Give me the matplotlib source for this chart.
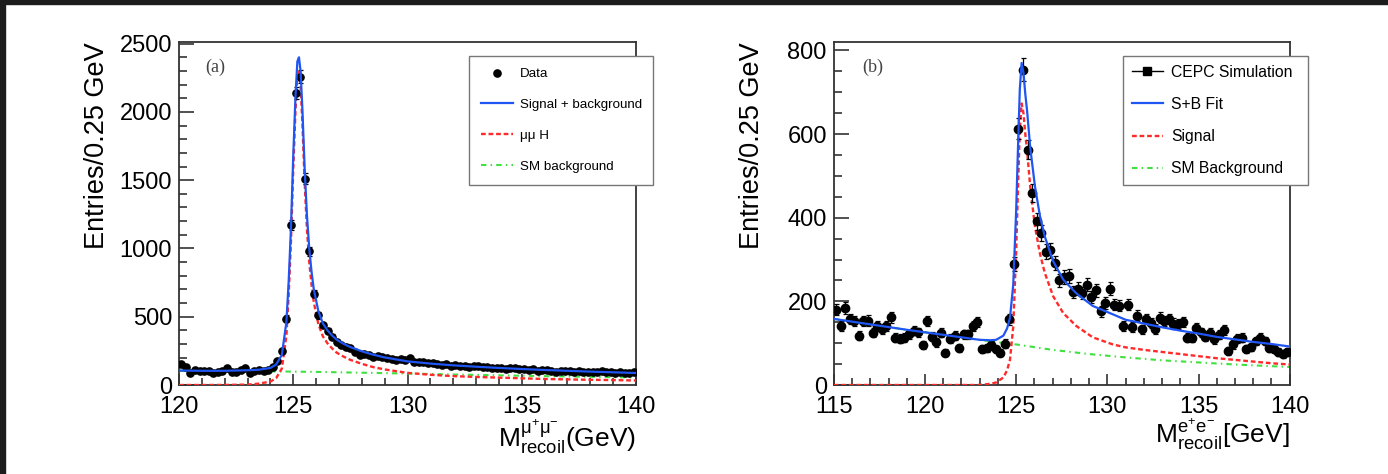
import numpy as np
import matplotlib.pyplot as plt
from matplotlib.lines import Line2D
from matplotlib.patches import Rectangle
from matplotlib.ticker import MultipleLocator

plt.rcParams['font.family'] = ['Liberation Sans', 'DejaVu Sans']
plt.rcParams['mathtext.fontset'] = 'custom'
plt.rcParams['mathtext.rm'] = 'Liberation Sans'
plt.rcParams['mathtext.it'] = 'Liberation Sans:italic'
plt.rcParams['mathtext.bf'] = 'Liberation Sans:bold'

# ---- (a) mu mu H recoil mass, 0.2 GeV bins from 120 to 140
mm_lo, mm_hi, mm_bin = 120.0, 140.0, 0.2
mm_counts = [151, 131, 91, 108, 105, 103, 100, 85, 98, 104,
             122, 96, 92, 112, 121, 90, 100, 112, 106, 110,
             135, 177, 247, 487, 1172, 2139, 2259, 1512, 978, 668,
             509, 436, 398, 355, 312, 292, 280, 268, 240, 222,
             228, 218, 208, 212, 205, 198, 190, 182, 187, 180,
             197, 172, 168, 170, 158, 160, 152, 148, 155, 140,
             143, 138, 139, 135, 140, 136, 131, 134, 126, 124,
             128, 118, 122, 125, 116, 119, 110, 114, 105, 112,
             108, 103, 97, 100, 99, 104, 96, 101, 98, 95,
             97, 94, 99, 92, 95, 91, 94, 89, 90, 92]

mm_fit_x = [120, 121, 122, 123, 123.5, 124, 124.25, 124.5, 124.7, 124.8,
            124.9, 125.0, 125.1, 125.18, 125.25, 125.32, 125.4, 125.5, 125.6, 125.7,
            125.8, 125.9, 126.1, 126.3, 126.5, 126.7, 126.9, 127.2, 127.5, 128,
            128.5, 129, 130, 131, 132, 133, 134, 135, 136, 137,
            138, 139, 140]
mm_sb = [106, 104, 104, 108, 112, 125, 150, 220, 460, 760,
         1150, 1680, 2120, 2370, 2400, 2300, 2020, 1580, 1240, 1000,
         830, 700, 540, 450, 400, 362, 332, 302, 278, 247,
         222, 202, 173, 157, 144, 134, 125, 117, 110, 104,
         98, 93, 88]
mm_sig = [0, 0, 0.5, 3, 10, 25, 50, 120, 360, 660,
          1050, 1580, 2020, 2270, 2300, 2200, 1920, 1480, 1140, 900,
          735, 605, 445, 355, 305, 268, 237, 208, 184, 155,
          131, 114, 89, 75, 65, 59, 54, 49, 44, 41,
          38, 36, 33]
mm_bkg_x = [120, 122, 124, 126, 128, 130, 132, 134, 136, 138, 140]
mm_bkg = [105, 103, 100, 96, 90, 84, 77, 71, 65, 60, 55]

# ---- (b) ee recoil mass, 0.25 GeV bins from 115 to 140
ee_lo, ee_hi, ee_bin = 115.0, 140.0, 0.25
ee_counts = [180, 141, 184, 158, 153, 118, 153, 154, 125, 142,
             133, 141, 162, 113, 111, 113, 121, 130, 126, 95,
             153, 115, 102, 125, 77, 111, 118, 89, 121, 121,
             141, 150, 87, 89, 95, 85, 77, 99, 157, 290,
             613, 754, 563, 460, 391, 363, 319, 322, 292, 250,
             258, 260, 222, 230, 220, 240, 211, 226, 176, 196,
             230, 192, 190, 141, 192, 139, 166, 133, 158, 149,
             134, 161, 153, 158, 147, 145, 150, 113, 113, 137,
             126, 115, 124, 109, 120, 131, 81, 97, 111, 113,
             87, 92, 105, 113, 105, 89, 87, 79, 73, 79]

ee_fit_x = [115, 117, 119, 121, 123, 123.6, 123.9, 124.3, 124.5, 124.66,
            124.84, 125.0, 125.1, 125.2, 125.3, 125.4, 125.5, 125.6, 125.77, 126.03,
            126.3, 126.57, 127.03, 127.58, 128.3, 129.2, 130.3, 131, 132, 133,
            134, 135, 136, 137, 138, 139, 140]
ee_sb = [158, 145, 132, 120, 108, 107, 108, 118, 135, 160,
         240, 417, 567, 707, 770, 747, 696, 655, 568, 475,
         405, 355, 296, 252, 219, 189, 169, 156, 147, 138,
         130, 123, 115, 109, 103, 98, 92]
ee_sig = [0, 0, 0, 0, 0, 3, 6, 18, 35, 60,
          140, 320, 470, 610, 673, 650, 600, 560, 474, 379,
          315, 268, 212, 172, 141, 114, 97, 90, 84, 79,
          74, 69, 64, 60, 56, 52, 49]
ee_bkg_x = [115, 117, 119, 121, 123, 124, 125, 127, 129, 131, 133, 135, 137, 140]
ee_bkg = [158, 145, 132, 120, 108, 102, 97, 84, 74, 66, 59, 54, 49, 43]

BLUE = '#1f55f2'
RED = '#ff2a2a'
GREEN = '#3fe03f'
DASH = (0, (2.0, 1.2))
DASHDOT = (0, (2.6, 2.0, 0.7, 2.0))

fig = plt.figure(figsize=(13.88, 4.74), dpi=100)
# dark strips along the top and left edge
fig.add_artist(Rectangle((0, 1 - 4 / 474), 1, 4 / 474, transform=fig.transFigure,
                         color='#1c1c1c', zorder=10))
fig.add_artist(Rectangle((0, 0), 5 / 1388, 1, transform=fig.transFigure,
                         color='#1c1c1c', zorder=10))

ax_a = fig.add_axes([179 / 1388, 89 / 474, 457 / 1388, 343 / 474])
ax_b = fig.add_axes([833.8 / 1388, 89 / 474, 455.9 / 1388, 343 / 474])


def style_axes(ax, xlim, ylim, ymaj, ymin):
    ax.set_xlim(*xlim)
    ax.set_ylim(*ylim)
    ax.xaxis.set_major_locator(MultipleLocator(5))
    ax.xaxis.set_minor_locator(MultipleLocator(1))
    ax.yaxis.set_major_locator(MultipleLocator(ymaj))
    ax.yaxis.set_minor_locator(MultipleLocator(ymin))
    ax.tick_params(which='both', direction='in', top=False, right=False,
                   labelsize=17, width=1.1, color='#222222')
    ax.tick_params(axis='y', which='major', length=11, pad=5)
    ax.tick_params(axis='y', which='minor', length=6)
    ax.tick_params(axis='x', which='major', length=8, pad=8)
    ax.tick_params(axis='x', which='minor', length=5)
    for sp in ax.spines.values():
        sp.set_linewidth(1.3)
        sp.set_color('#333333')


def draw_panel(ax, lo, hi, width, counts, fit_x, sb, sig, bkg_x, bkg, ms):
    centers = np.arange(lo + width / 2, hi, width)
    counts = np.asarray(counts, dtype=float)
    ax.plot(bkg_x, bkg, color=GREEN, lw=1.5, ls=DASHDOT, zorder=2)
    ax.plot(fit_x, sig, color=RED, lw=1.7, ls=DASH, zorder=3)
    ax.errorbar(centers, counts, yerr=np.sqrt(counts), fmt='o', color='black',
                ms=ms, elinewidth=0.9, capsize=1.8, capthick=0.9, zorder=4)
    ax.plot(fit_x, sb, color=BLUE, lw=1.6, zorder=5)


# panel (a)
style_axes(ax_a, (120, 140), (0, 2512), 500, 100)
draw_panel(ax_a, mm_lo, mm_hi, mm_bin, mm_counts, mm_fit_x, mm_sb, mm_sig,
           mm_bkg_x, mm_bkg, 5.2)
ax_a.set_ylabel('Entries/0.25 GeV', fontsize=19.5, loc='top')
ax_a.yaxis.set_label_coords(-0.152, 1.0)
ax_a.set_xlabel(r'M$^{\mathrm{μ^{+}μ^{-}}}_{\mathrm{recoil}}$(GeV)', fontsize=19, loc='right')
ax_a.xaxis.set_label_coords(1.0, -0.094)
ax_a.text(0.057, 0.927, '(a)', transform=ax_a.transAxes, fontsize=13,
          family='Liberation Serif', color='#444444', va='center', ha='left')

handles_a = [Line2D([], [], color='black', marker='o', ls='none', ms=5.2),
             Line2D([], [], color=BLUE, lw=1.6),
             Line2D([], [], color=RED, lw=1.7, ls=DASH),
             Line2D([], [], color=GREEN, lw=1.5, ls=DASHDOT)]
leg_a = fig.legend(handles_a, ['Data', 'Signal + background', 'μμ H', 'SM background'],
                   loc='upper left', bbox_to_anchor=(469 / 1388, 1 - 56 / 474, 184 / 1388, 0.0),
                   mode='expand', fontsize=9.6, frameon=True, fancybox=False,
                   edgecolor='#777777', framealpha=1, borderpad=0.9, labelspacing=1.38,
                   handlelength=2.4, handletextpad=0.5, borderaxespad=0)
leg_a.get_frame().set_linewidth(1.0)

# panel (b)
style_axes(ax_b, (115, 140), (0, 820), 200, 50)
draw_panel(ax_b, ee_lo, ee_hi, ee_bin, ee_counts, ee_fit_x, ee_sb, ee_sig,
           ee_bkg_x, ee_bkg, 6.0)
ax_b.set_ylabel('Entries/0.25 GeV', fontsize=19.5, loc='top')
ax_b.yaxis.set_label_coords(-0.152, 1.0)
ax_b.set_xlabel(r'M$^{\mathrm{e^{+}e^{-}}}_{\mathrm{recoil}}$[GeV]', fontsize=19, loc='right')
ax_b.xaxis.set_label_coords(1.0, -0.094)
ax_b.text(0.063, 0.927, '(b)', transform=ax_b.transAxes, fontsize=13,
          family='Liberation Serif', color='#444444', va='center', ha='left')

handles_b = [Line2D([], [], color='black', marker='s', lw=1.0, ms=6),
             Line2D([], [], color=BLUE, lw=1.6),
             Line2D([], [], color=RED, lw=1.7, ls=DASH),
             Line2D([], [], color=GREEN, lw=1.5, ls=DASHDOT)]
leg_b = fig.legend(handles_b, ['CEPC Simulation', 'S+B Fit', 'Signal', 'SM Background'],
                   loc='upper left', bbox_to_anchor=(1123 / 1388, 1 - 56 / 474, 185 / 1388, 0.0),
                   mode='expand', fontsize=11.3, frameon=True, fancybox=False,
                   edgecolor='#777777', framealpha=1, borderpad=0.55, labelspacing=1.1,
                   handlelength=2.0, handletextpad=0.5, borderaxespad=0)
leg_b.get_frame().set_linewidth(1.0)

fig.savefig('out.png', dpi=100)
